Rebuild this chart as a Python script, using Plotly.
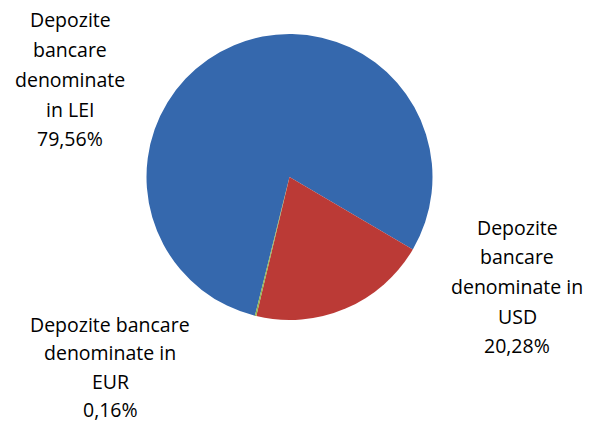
import plotly.graph_objects as go

categories = ["Depozite bancare denominate in LEI",
              "Depozite bancare denominate in USD",
              "Depozite bancare denominate in EUR"]
values = [79.56, 20.28, 0.16]
label_lines = [["Depozite", "bancare", "denominate", "in LEI", "79,56%"],
               ["Depozite", "bancare", "denominate in", "USD", "20,28%"],
               ["Depozite bancare", "denominate in", "EUR", "0,16%"]]
colors = ["#3568ad", "#bb3a36", "#8db34d"]

W, H = 595, 423
cx, cy, r = 289.5, 177, 143

fig = go.Figure(go.Pie(
    labels=categories, values=values, sort=False, direction="clockwise",
    rotation=194, textinfo="none", hoverinfo="label+percent",
    marker=dict(colors=colors, line=dict(width=0)),
    domain=dict(x=[(cx - r) / W, (cx + r) / W], y=[1 - (cy + r) / H, 1 - (cy - r) / H]),
    showlegend=False,
))

# (center x, first line center y, line gap) in pixels
label_pos = [(70, 20, 29.7), (517, 227, 29.7), (110, 324, 28.5)]
for lines, (x, y0, gap) in zip(label_lines, label_pos):
    for i, ln in enumerate(lines):
        y = y0 + i * gap
        fig.add_annotation(x=x / W, y=1 - y / H, xref="paper", yref="paper",
                           text=ln, showarrow=False, xanchor="center", yanchor="middle",
                           align="center",
                           font=dict(family="Open Sans", size=19.5, color="#000000"))

fig.update_layout(width=W, height=H, margin=dict(l=0, r=0, t=0, b=0),
                  paper_bgcolor="white", plot_bgcolor="white")
fig.write_html("out.html", config={"displayModeBar": False},
               post_script="document.body.style.margin='0';document.body.style.overflow='hidden';")
